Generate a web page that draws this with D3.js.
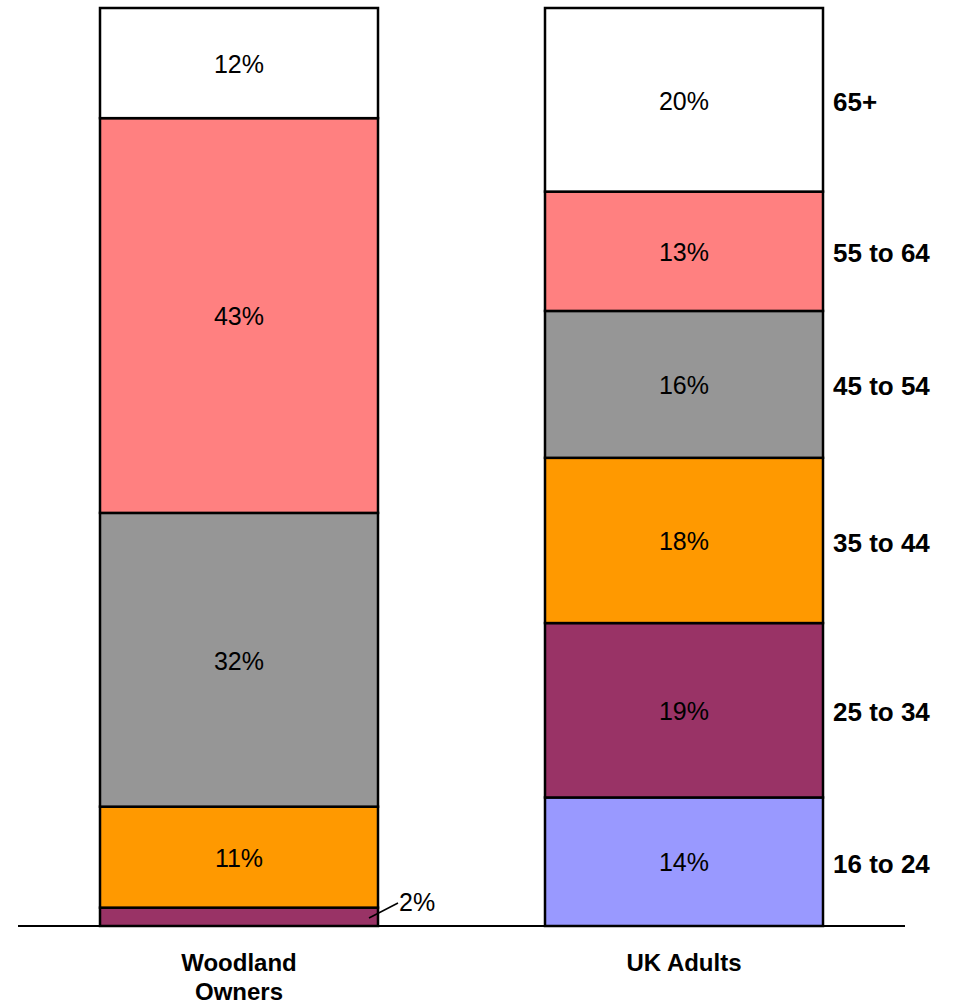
<!DOCTYPE html>
<html><head><meta charset="utf-8">
<script src="https://cdn.jsdelivr.net/npm/d3@7"></script>
<style>body{margin:0;background:#fff;}svg{display:block;font-family:Arial,"Liberation Sans",sans-serif;}</style>
</head><body>
<svg id="c" width="957" height="1007"></svg>
<script>
const groups = ["Woodland Owners", "UK Adults"];
const ageBands = ["16 to 24", "25 to 34", "35 to 44", "45 to 54", "55 to 64", "65+"];
const woodlandOwners = [0, 2, 11, 32, 43, 12];
const ukAdults = [14, 19, 18, 16, 13, 20];
const colors = ["#9999FF", "#993366", "#FF9900", "#969696", "#FF8080", "#FFFFFF"];

const rows = groups.map((g, i) => {
  const vals = i === 0 ? woodlandOwners : ukAdults;
  const r = {group: g};
  ageBands.forEach((a, j) => r[a] = vals[j]);
  return r;
});

const svg = d3.select("#c");
const y = d3.scaleLinear().domain([0, 100]).range([926, 8]);
const x = d3.scalePoint().domain(groups).range([239, 684]);
const barW = 278;
const color = d3.scaleOrdinal().domain(ageBands).range(colors);

const series = d3.stack().keys(ageBands)(rows);

// axis baseline
svg.append("line").attr("x1", 18).attr("x2", 905).attr("y1", y(0)).attr("y2", y(0))
  .attr("stroke", "#000").attr("stroke-width", 2);

const layer = svg.selectAll("g.layer").data(series).join("g").attr("class", "layer")
  .attr("fill", d => color(d.key));

layer.selectAll("rect").data(d => d.filter(p => p[1] - p[0] > 0).map(p => ({p, key: d.key})))
  .join("rect")
  .attr("x", d => x(d.p.data.group) - barW / 2)
  .attr("width", barW)
  .attr("y", d => y(d.p[1]))
  .attr("height", d => y(d.p[0]) - y(d.p[1]))
  .attr("stroke", "#000").attr("stroke-width", 2.5);

// value labels
series.forEach(s => {
  s.forEach(p => {
    const v = p[1] - p[0];
    if (v <= 0) return;
    const cx = x(p.data.group);
    const cy = (y(p[0]) + y(p[1])) / 2;
    if (v >= 5) {
      svg.append("text").attr("x", cx).attr("y", cy + 1).attr("dy", "0.35em")
        .attr("text-anchor", "middle").attr("font-size", 25).text(v + "%");
    } else {
      const x0 = cx + barW / 2 - 9, y0 = y(p[0]) - 8;
      svg.append("line").attr("x1", x0).attr("y1", y0).attr("x2", x0 + 29).attr("y2", y0 - 15)
        .attr("stroke", "#000").attr("stroke-width", 1.5);
      svg.append("text").attr("x", x0 + 30).attr("y", y0 - 16).attr("dy", "0.35em")
        .attr("font-size", 25).text(v + "%");
    }
  });
});

// right-side legend labels aligned with UK Adults segments
series.forEach(s => {
  const p = s[1];
  const cy = (y(p[0]) + y(p[1])) / 2;
  svg.append("text").attr("x", x("UK Adults") + barW / 2 + 10).attr("y", cy + 2).attr("dy", "0.35em")
    .attr("font-size", 26).attr("font-weight", "bold").text(s.key);
});

// category labels
const catLines = {"Woodland Owners": ["Woodland", "Owners"], "UK Adults": ["UK Adults"]};
groups.forEach(g => {
  const t = svg.append("text").attr("x", x(g)).attr("y", 971).attr("text-anchor", "middle")
    .attr("font-size", 24).attr("font-weight", "bold");
  catLines[g].forEach((l, i) => t.append("tspan").attr("x", x(g)).attr("dy", i ? 29 : 0).text(l));
});
</script>
</body></html>
